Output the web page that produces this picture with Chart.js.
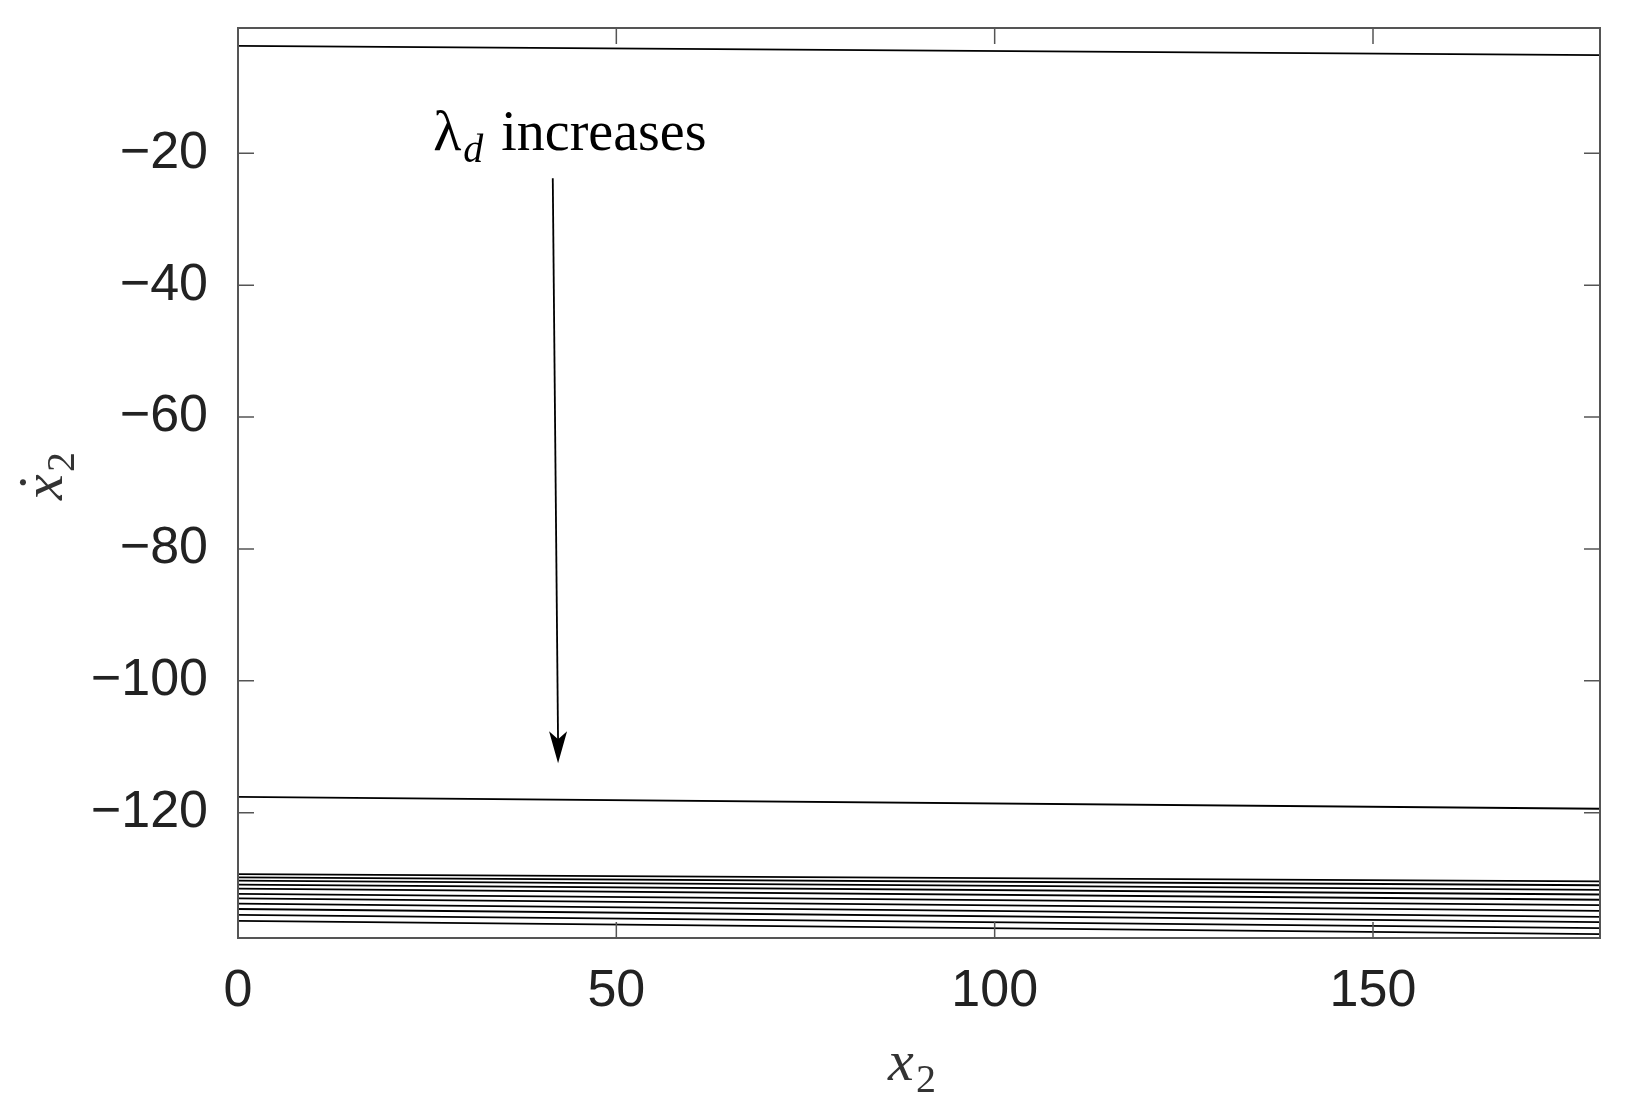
<!DOCTYPE html>
<html>
<head>
<meta charset="utf-8">
<script src="https://cdn.jsdelivr.net/npm/chart.js@4/dist/chart.umd.min.js"></script>
<style>
  html, body { margin: 0; padding: 0; background: #fff; }
  #wrap { width: 1630px; height: 1113px; }
</style>
</head>
<body>
<div id="wrap"><canvas id="phaseChart" width="1630" height="1113"></canvas></div>
<script>
// Données
const xEnds = [0, 180];
const xTicks = [0, 50, 100, 150];
const yTicks = [-20, -40, -60, -80, -100, -120];
// valeurs de x2' au début et à la fin de chaque courbe
const startVals = [-3.7, -117.6, -129.3, -129.8, -130.3, -130.9, -131.5, -132.3, -133.0, -133.8, -134.6, -135.5, -136.4];
const endVals   = [-5.1, -119.4, -130.4, -131.0, -131.7, -132.4, -133.2, -134.0, -134.9, -135.8, -136.6, -137.5, -138.4];
// annotation (flèche)
const arrowFrom = [41.6, -23.8];
const arrowTo = [42.3, -112.5];
const labelPos = [25.8, -19.5];

const datasets = startVals.map((s, i) => ({
    data: [{ x: xEnds[0], y: s }, { x: xEnds[1], y: endVals[i] }],
    borderColor: '#000',
    borderWidth: 1.8,
    pointRadius: 0,
    fill: false
}));

// Cadre, graduations intérieures, titres et annotation
const decor = {
    id: 'decor',
    afterDraw(chart) {
        const { ctx, chartArea: a, scales: { x, y } } = chart;
        ctx.save();
        ctx.strokeStyle = '#555';
        ctx.lineWidth = 2;
        ctx.strokeRect(a.left, a.top, a.right - a.left, a.bottom - a.top);
        ctx.lineWidth = 1.5;
        ctx.beginPath();
        xTicks.forEach(v => {
            const px = x.getPixelForValue(v);
            ctx.moveTo(px, a.bottom); ctx.lineTo(px, a.bottom - 16);
            ctx.moveTo(px, a.top); ctx.lineTo(px, a.top + 16);
        });
        yTicks.forEach(v => {
            const py = y.getPixelForValue(v);
            ctx.moveTo(a.left, py); ctx.lineTo(a.left + 16, py);
            ctx.moveTo(a.right, py); ctx.lineTo(a.right - 16, py);
        });
        ctx.stroke();

        // flèche
        const x0 = x.getPixelForValue(arrowFrom[0]), y0 = y.getPixelForValue(arrowFrom[1]);
        const x1 = x.getPixelForValue(arrowTo[0]), y1 = y.getPixelForValue(arrowTo[1]);
        ctx.strokeStyle = '#000';
        ctx.fillStyle = '#000';
        ctx.lineWidth = 1.8;
        ctx.beginPath(); ctx.moveTo(x0, y0); ctx.lineTo(x1, y1 - 20); ctx.stroke();
        ctx.beginPath();
        ctx.moveTo(x1, y1); ctx.lineTo(x1 - 9, y1 - 32); ctx.lineTo(x1, y1 - 24); ctx.lineTo(x1 + 9, y1 - 32);
        ctx.closePath(); ctx.fill();

        // texte
        const lx = x.getPixelForValue(labelPos[0]), ly = y.getPixelForValue(labelPos[1]);
        ctx.textBaseline = 'alphabetic';
        ctx.font = '58px "Liberation Serif", serif';
        ctx.fillText('λ', lx, ly);
        ctx.font = 'italic 40px "Liberation Serif", serif';
        ctx.fillText('d', lx + 30, ly + 12);
        ctx.font = '56px "Liberation Serif", serif';
        ctx.fillText('increases', lx + 68, ly);

        // titres des axes
        ctx.fillStyle = '#333';
        ctx.font = 'italic 58px "Liberation Serif", serif';
        ctx.fillText('x', 888, 1080);
        ctx.font = '40px "Liberation Serif", serif';
        ctx.fillText('2', 916, 1092);
        ctx.save();
        ctx.translate(62, 500);
        ctx.rotate(-Math.PI / 2);
        ctx.font = 'italic 58px "Liberation Serif", serif';
        ctx.fillText('x', 0, 0);
        ctx.font = '58px "Liberation Serif", serif';
        ctx.fillText('˙', 8, -4);
        ctx.font = '40px "Liberation Serif", serif';
        ctx.fillText('2', 28, 12);
        ctx.restore();
        ctx.restore();
    }
};

new Chart(document.getElementById('phaseChart'), {
    type: 'line',
    data: { datasets },
    options: {
        responsive: false,
        animation: false,
        layout: { padding: { top: 28, right: 30, left: 0, bottom: 0 } },
        plugins: { legend: { display: false }, tooltip: { enabled: false } },
        scales: {
            x: {
                type: 'linear', min: 0, max: 180,
                afterBuildTicks: s => { s.ticks = xTicks.map(v => ({ value: v })); },
                afterFit: s => { s.height = 1113 - 938; s.paddingLeft = 0; s.paddingRight = 0; },
                grid: { display: false },
                border: { display: false },
                ticks: { color: '#222', font: { size: 52, family: 'Liberation Sans' }, padding: 14, maxRotation: 0 }
            },
            y: {
                type: 'linear', min: -139, max: -1,
                afterBuildTicks: s => { s.ticks = yTicks.map(v => ({ value: v })); },
                afterFit: s => { s.width = 238; s.paddingTop = 0; s.paddingBottom = 0; },
                grid: { display: false },
                border: { display: false },
                ticks: {
                    color: '#222', font: { size: 52, family: 'Liberation Sans' }, padding: 22,
                    callback: v => String(v).replace('-', '\u2212')
                }
            }
        }
    },
    plugins: [decor]
});
</script>
</body>
</html>
